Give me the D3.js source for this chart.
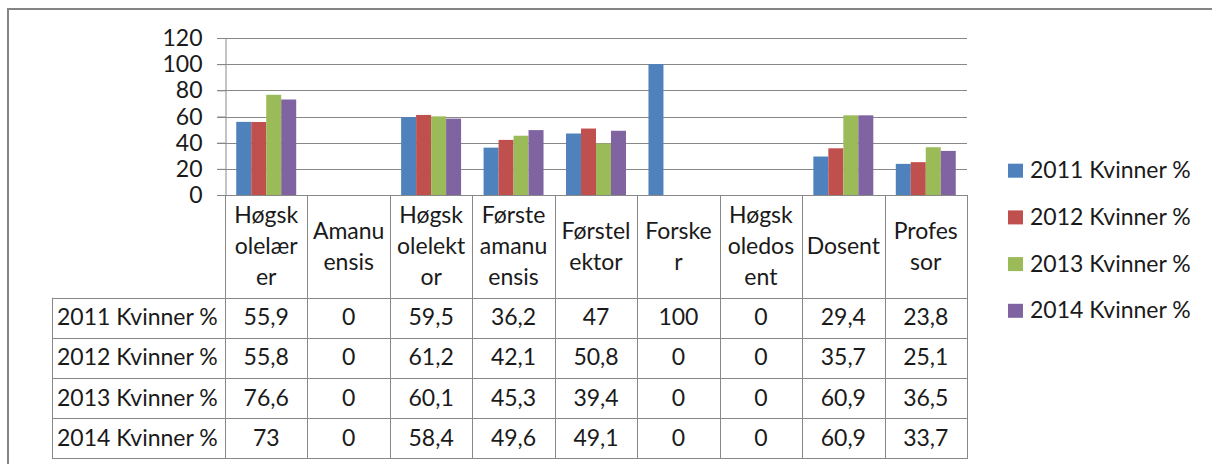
<!DOCTYPE html>
<html>
<head>
<meta charset="utf-8">
<script src="https://cdn.jsdelivr.net/npm/d3@7"></script>
<style>
  body { margin: 0; background: #fff; }
  svg text { font-family: Lato, "Open Sans", sans-serif; fill: #1a1a1a; }
</style>
</head>
<body>
<svg id="chart" width="1212" height="464"></svg>
<script>
// categories (with the wrapped label lines shown in the data table header)
var categories = ['Høgskolelærer', 'Amanuensis', 'Høgskolelektor', 'Førsteamanuensis', 'Førstelektor',
                  'Forsker', 'Høgskoledosent', 'Dosent', 'Professor'];
var categoryLines = [['Høgsk', 'olelær', 'er'], ['Amanu', 'ensis'], ['Høgsk', 'olelekt', 'or'],
                     ['Første', 'amanu', 'ensis'], ['Førstel', 'ektor'], ['Forske', 'r'],
                     ['Høgsk', 'oledos', 'ent'], ['Dosent'], ['Profes', 'sor']];
var seriesNames = ['2011 Kvinner %', '2012 Kvinner %', '2013 Kvinner %', '2014 Kvinner %'];
var kvinner2011 = [55.9, 0, 59.5, 36.2, 47, 100, 0, 29.4, 23.8];
var kvinner2012 = [55.8, 0, 61.2, 42.1, 50.8, 0, 0, 35.7, 25.1];
var kvinner2013 = [76.6, 0, 60.1, 45.3, 39.4, 0, 0, 60.9, 36.5];
var kvinner2014 = [73, 0, 58.4, 49.6, 49.1, 0, 0, 60.9, 33.7];
var yTicks = [0, 20, 40, 60, 80, 100, 120];

var series = [kvinner2011, kvinner2012, kvinner2013, kvinner2014];
var colors = ['#4f81bd', '#c0504d', '#9bbb59', '#8064a2'];
var gridColor = '#888888';
var fontSize = 23;

var svg = d3.select('#chart');

// outer chart frame (only top and left edges are visible in the crop)
svg.append('path')
    .attr('d', 'M8,465 V9 H1213')
    .attr('fill', 'none').attr('stroke', '#858585').attr('stroke-width', 2);

var plot = { left: 225, right: 967, top: 38, bottom: 195 };
var table = { left: 52, headBottom: 297.7, rowH: 40.15 };

var x0 = d3.scaleBand().domain(categories).range([plot.left, plot.right]);
// gap width 150%: 4 bars + 1.5 bar-widths of gap per category
var barW = x0.bandwidth() / 5.5;
var x1 = d3.scaleBand().domain(d3.range(series.length))
    .range([barW * 0.75, barW * 4.75]);
var y = d3.scaleLinear().domain([0, 120]).range([plot.bottom, plot.top]);

// gridlines
svg.append('g').selectAll('line').data(yTicks).enter().append('line')
    .attr('x1', plot.left - 8).attr('x2', plot.right)
    .attr('y1', d => Math.round(y(d)) + 0.5).attr('y2', d => Math.round(y(d)) + 0.5)
    .attr('stroke', gridColor).attr('stroke-width', 1);

// y axis
var yAxis = svg.append('g').attr('transform', 'translate(' + (plot.left + 0.5) + ',0)')
    .call(d3.axisLeft(y).tickValues(yTicks).tickSize(8).tickPadding(15));
yAxis.select('.domain').attr('stroke', gridColor);
yAxis.selectAll('.tick line').attr('stroke', gridColor);
yAxis.selectAll('.tick text')
    .attr('font-size', fontSize).attr('font-family', 'Lato, sans-serif').attr('fill', '#1a1a1a')
    .attr('dy', '0.33em');

// bars
var groups = svg.append('g').selectAll('g').data(series).enter().append('g')
    .attr('fill', (d, i) => colors[i]);
groups.each(function (vals, si) {
    d3.select(this).selectAll('rect').data(vals).enter().append('rect')
        .attr('x', (d, ci) => x0(categories[ci]) + x1(si))
        .attr('width', x1.bandwidth())
        .attr('y', d => y(d))
        .attr('height', d => y(0) - y(d));
});

// data table
var tg = svg.append('g');
var rowY = d3.range(series.length + 1).map(i => table.headBottom + i * table.rowH);
var tableBottom = rowY[rowY.length - 1];

// vertical lines at category borders
tg.selectAll('line.v').data(d3.range(categories.length + 1)).enter().append('line')
    .attr('class', 'v')
    .attr('x1', i => Math.round(plot.left + i * x0.bandwidth()) + 0.5)
    .attr('x2', i => Math.round(plot.left + i * x0.bandwidth()) + 0.5)
    .attr('y1', plot.bottom).attr('y2', tableBottom)
    .attr('stroke', gridColor);
tg.append('line')
    .attr('x1', table.left + 0.5).attr('x2', table.left + 0.5)
    .attr('y1', rowY[0]).attr('y2', tableBottom).attr('stroke', gridColor);
tg.selectAll('line.h').data(rowY).enter().append('line')
    .attr('class', 'h')
    .attr('x1', table.left).attr('x2', plot.right + 1)
    .attr('y1', d => Math.round(d) + 0.5).attr('y2', d => Math.round(d) + 0.5)
    .attr('stroke', gridColor);

// header labels
var headMid = (plot.bottom + table.headBottom) / 2;
categoryLines.forEach(function (lines, ci) {
    var cx = x0(categories[ci]) + x0.bandwidth() / 2;
    lines.forEach(function (t, li) {
        tg.append('text')
            .attr('x', cx)
            .attr('y', headMid + 8 + (li - (lines.length - 1) / 2) * 31)
            .attr('text-anchor', 'middle').attr('font-size', fontSize)
            .text(t);
    });
});

// rows
var fmt = v => String(v).replace('.', ',');
series.forEach(function (vals, si) {
    var cy = (rowY[si] + rowY[si + 1]) / 2 + 7.5;
    tg.append('text').attr('x', table.left + 5).attr('y', cy)
        .attr('font-size', fontSize).text(seriesNames[si]);
    vals.forEach(function (v, ci) {
        tg.append('text')
            .attr('x', x0(categories[ci]) + x0.bandwidth() / 2).attr('y', cy)
            .attr('text-anchor', 'middle').attr('font-size', fontSize)
            .text(fmt(v));
    });
});

// legend
var legend = svg.append('g').selectAll('g').data(seriesNames).enter().append('g')
    .attr('transform', (d, i) => 'translate(1008,' + (170.7 + i * 46.7) + ')');
legend.append('rect').attr('x', 0).attr('y', -7).attr('width', 15).attr('height', 14)
    .attr('fill', (d, i) => colors[i]);
legend.append('text').attr('x', 22).attr('y', 7.5).attr('font-size', fontSize).text(d => d);
</script>
</body>
</html>
